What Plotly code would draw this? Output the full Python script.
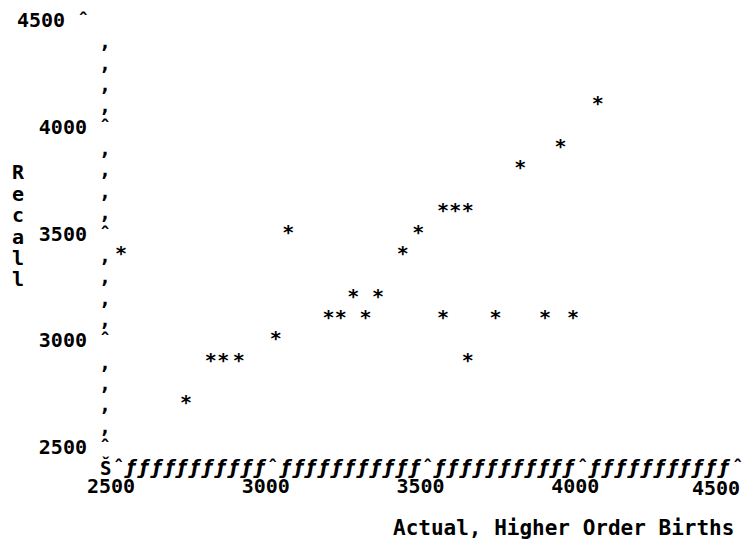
import plotly.graph_objects as go

# ---- data (line-printer style scatter) ----
actual = [2510, 2720, 2800, 2840, 2890, 3010, 3050, 3180, 3220, 3260, 3300, 3340,
          3420, 3470, 3550, 3590, 3630, 3550, 3630, 3720, 3800, 3880, 3930, 3970, 4050]
recall = [3400, 2700, 2900, 2900, 2900, 3000, 3500, 3100, 3100, 3200, 3100, 3200,
          3400, 3500, 3600, 3600, 3600, 3100, 2900, 3100, 3800, 3100, 3900, 3100, 4100]

x_ticks = [2500, 3000, 3500, 4000, 4500]
y_ticks = [2500, 3000, 3500, 4000, 4500]
x_title = "Actual, Higher Order Births"
y_title = "Recall"

MONO = "DejaVu Sans Mono"
FS = 20
FONT = dict(family=MONO, size=FS, color="black", weight="bold")
AFONT = dict(family=MONO, size=19, color="black", weight="bold")
x_lo, x_hi = x_ticks[0], x_ticks[-1]
y_lo, y_hi = y_ticks[0], y_ticks[-1]
col = (x_ticks[1] - x_ticks[0]) / 12.0   # one printer column in x units
row = (y_ticks[1] - y_ticks[0]) / 5.0    # one printer row in y units


def px(v):  # x data value -> paper fraction
    return (v - x_lo) / (x_hi - x_lo)


def py(v):  # y data value -> paper fraction
    return (v - y_lo) / (y_hi - y_lo)


fig = go.Figure()

# data points as printed asterisks
fig.add_trace(go.Scatter(
    x=actual, y=recall, mode="text", text=["*"] * len(actual),
    textposition="middle center", textfont=FONT,
    hoverinfo="x+y", showlegend=False, cliponaxis=False))


def char(xp, yp, t, font=FONT, xanchor="center", xshift=0, yshift=0):
    fig.add_annotation(x=xp, y=yp, xref="paper", yref="paper", text=t,
                       xanchor=xanchor, yanchor="middle", xshift=xshift, yshift=yshift,
                       showarrow=False, font=font, borderpad=0)


# vertical axis drawn with printer characters
v = y_lo
while v < y_hi - 1e-6:
    is_tick = abs((v - y_lo) % (y_ticks[1] - y_ticks[0])) < 1e-6
    char(px(x_lo - col), py(v), "\u02c6" if is_tick else "\u201a")
    v += row

# horizontal axis drawn with printer characters
FFONT = dict(family="DejaVu Sans", size=19, color="black", weight="bold", style="italic")
n_cols = int(round((x_hi - x_lo) / col))
for k in range(-1, n_cols + 1):
    xv = x_lo + k * col
    if k == -1:
        char(px(xv), py(y_lo - row), "\u0160", font=AFONT, yshift=1)
    elif k % 12 == 0:
        char(px(xv), py(y_lo - row), "\u02c6", font=AFONT, yshift=1)
    else:
        char(px(xv), py(y_lo - row), "\u0192", font=FFONT, yshift=1)

# top y label printed offset to the left, as in the reference
char(px(x_lo), py(y_hi), "4500 \u02c6", xanchor="right", xshift=-28)
# right-most x label pulled inside the page
char(px(x_hi), py(y_lo - 2 * row), str(x_hi), xanchor="right", xshift=4, yshift=2)
# vertical stacked y title
for i, ch in enumerate(y_title):
    char(px(x_lo), py(3800 - i * row), ch, xshift=-100, yshift=-3)
# x title
TFONT = dict(family=MONO, size=21, color="black", weight="bold")
char(px(x_hi), py(y_lo - 4 * row), x_title, font=TFONT, xanchor="right", xshift=-2, yshift=4)

fig.update_layout(
    width=742, height=542,
    margin=dict(l=110, r=13, t=12, b=103),
    paper_bgcolor="white", plot_bgcolor="white",
    showlegend=False,
    font=dict(family=MONO, size=FS, color="black"),
)
fig.update_xaxes(range=[x_lo, x_hi], tickvals=x_ticks[:-1], ticktext=[str(t) for t in x_ticks[:-1]],
                 showgrid=False, zeroline=False, showline=False, ticks="",
                 ticklabelstandoff=25, ticklabelshift=-7, tickfont=FONT)
fig.update_yaxes(range=[y_lo, y_hi], tickvals=y_ticks[:-1], ticktext=[str(t) for t in y_ticks[:-1]],
                 showgrid=False, zeroline=False, showline=False, ticks="",
                 ticklabelstandoff=30, tickfont=FONT)

fig.write_html("out.html")
